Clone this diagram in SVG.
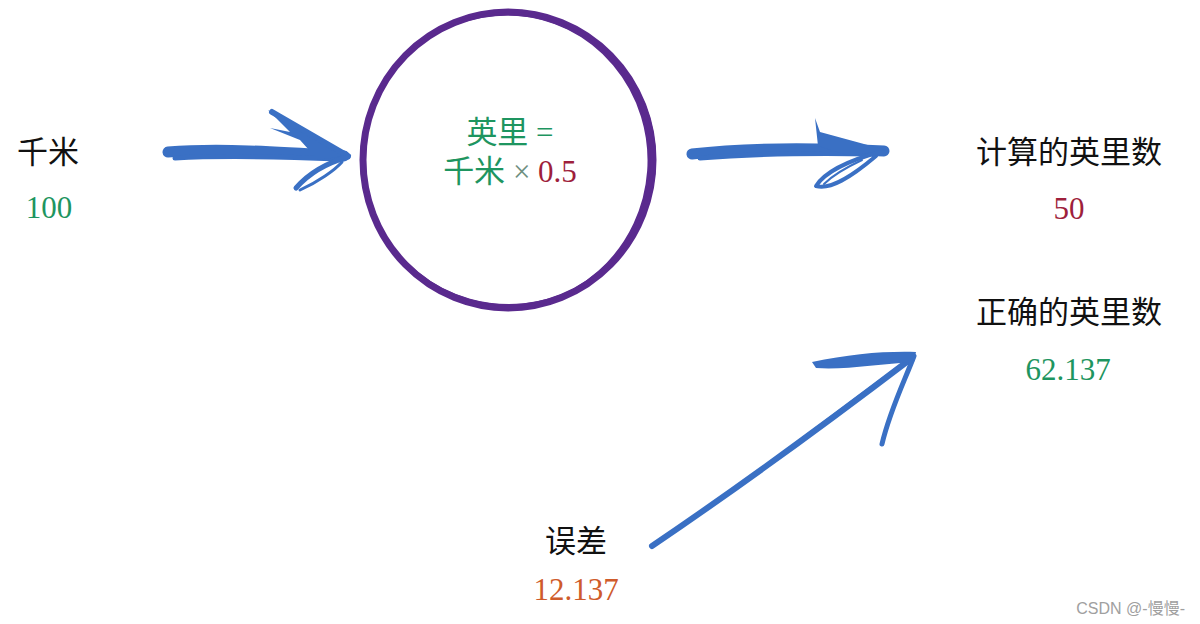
<svg xmlns="http://www.w3.org/2000/svg" width="1200" height="624" viewBox="0 0 1200 624">
<style>
.t{font-family:"Liberation Serif","Noto Sans CJK SC",serif;font-size:31px;text-anchor:middle}
.k{fill:#111}
.g{fill:#1e9560}
.r{fill:#9e1f3c}
.o{fill:#cf5b2b}
.brush{fill:none;stroke:#3a70c4;stroke-linecap:round;stroke-linejoin:round}
.fill{fill:#3a70c4}
.ring{fill:none;stroke:#5a2a8e}
</style>
<rect width="1200" height="624" fill="#fff"/>
<g id="connectors">
  <g id="arrow-km">
    <path class="brush" stroke-width="11" d="M168,152 C220,148 280,152 344,156"/>
    <path class="brush" stroke-width="5" d="M175,158 C230,155 290,157 340,159"/>
    <path class="fill" d="M268,110 L350,155 L318,160 L300,140 L270,128 L290,132 Z"/>
    <path class="brush" stroke-width="6" d="M272,112 L348,156"/>
    <path class="brush" stroke-width="5" d="M296,188 C310,172 330,162 348,157"/>
    <path class="brush" stroke-width="3" d="M300,190 C318,182 335,170 342,162"/>
  </g>
  <g id="arrow-out">
    <path class="brush" stroke-width="11" d="M692,154 C750,147 820,148 884,151"/>
    <path class="brush" stroke-width="5" d="M700,158 C760,153 820,153 875,154"/>
    <path class="fill" d="M815,118 L820,132 L886,150 L850,156 L818,146 Z"/>
    <path class="brush" stroke-width="4" d="M880,152 C850,160 825,172 816,186 C830,190 850,178 876,156"/>
    <path class="brush" stroke-width="2" d="M862,160 C845,168 830,178 824,184"/>
  </g>
  <g id="arrow-err">
    <path class="brush" stroke-width="6" d="M652,546 C720,500 820,428 912,358"/>
    <path class="brush" stroke-width="3" d="M660,540 C730,495 800,440 900,366"/>
    <path class="fill" d="M812,362 C850,354 885,351 916,352 L914,362 C880,364 845,370 816,368 Z"/>
    <path class="brush" stroke-width="5" d="M914,356 C905,380 890,410 882,444"/>
  </g>
</g>
<g id="node-converter">
  <ellipse class="ring" cx="508" cy="160" rx="145" ry="148" stroke-width="7"/>
  <ellipse class="ring" cx="506" cy="161" rx="143" ry="147" stroke-width="3" transform="rotate(4 507 161)"/>
  <ellipse class="ring" cx="509" cy="159" rx="146" ry="146" stroke-width="2" transform="rotate(-6 509 159)"/>
  <text class="t g" x="510" y="143">英里 =</text>
  <text class="t" x="510" y="182"><tspan class="g">千米 </tspan><tspan fill="#6f8f80">×</tspan><tspan class="r"> 0.5</tspan></text>
</g>
<g id="node-km">
  <text class="t k" x="48" y="163">千米</text>
  <text class="t g" x="49" y="218">100</text>
</g>
<g id="node-calc">
  <text class="t k" x="1069" y="163">计算的英里数</text>
  <text class="t r" x="1069" y="219">50</text>
</g>
<g id="node-true">
  <text class="t k" x="1069" y="323">正确的英里数</text>
  <text class="t g" x="1068" y="380">62.137</text>
</g>
<g id="node-error">
  <text class="t k" x="576" y="552">误差</text>
  <text class="t o" x="576" y="600">12.137</text>
</g>
<text x="1185" y="614" font-family="'Liberation Sans','Noto Sans CJK SC',sans-serif" font-size="16" fill="#a0a0a0" text-anchor="end">CSDN @-慢慢-</text>
</svg>
